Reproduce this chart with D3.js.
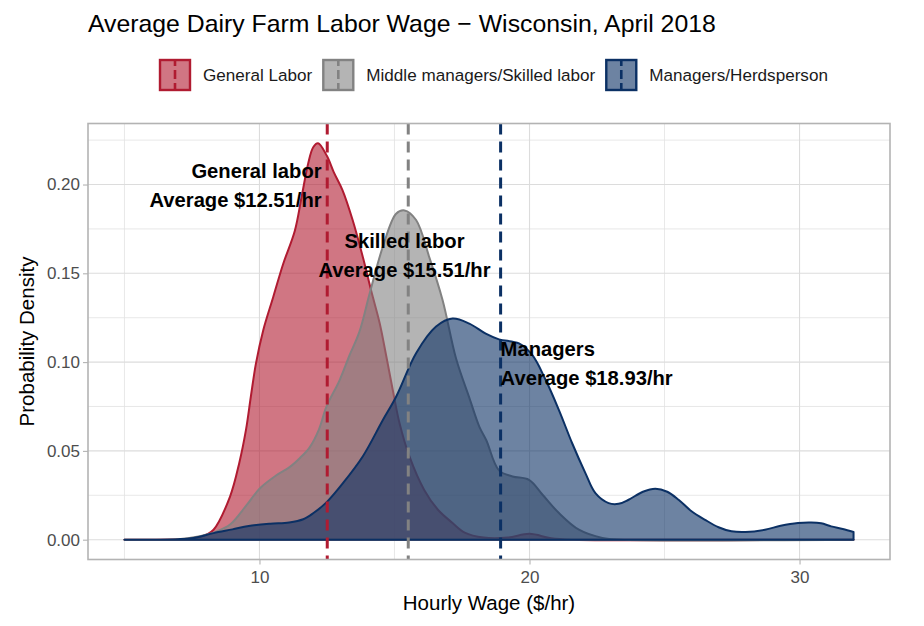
<!DOCTYPE html>
<html>
<head>
<meta charset="utf-8">
<script src="https://cdn.jsdelivr.net/npm/d3@7"></script>
<style>
  html, body { margin: 0; padding: 0; background: #ffffff; }
  svg { display: block; font-family: "Liberation Sans", Arial, sans-serif; }
</style>
</head>
<body>
<svg id="chart" width="924" height="626"></svg>
<script>
// ---------------- data ----------------
const seriesNames = ["General Labor", "Middle managers/Skilled labor", "Managers/Herdsperson"];
const seriesColors = ["#B01B31", "#828282", "#0B3064"];
const seriesMeans = [12.51, 15.51, 18.93];

const generalX = [5, 7.0, 7.68, 8.05, 8.3, 8.91, 9.25, 9.5, 9.68, 9.87, 10.14, 10.51, 10.88, 11.31, 11.56, 11.8, 11.99, 12.17, 12.5, 12.75, 13.07, 13.45, 13.83, 14.14, 14.45, 14.7, 14.94, 15.18, 15.55, 16.1, 16.6, 17.15, 17.6, 18.3, 19.2, 20.0, 20.8, 21.6, 32];
const generalY = [0, 0.0002, 0.001, 0.003, 0.0056, 0.0243, 0.0431, 0.0618, 0.0805, 0.0993, 0.118, 0.1367, 0.1554, 0.174, 0.193, 0.2116, 0.221, 0.2232, 0.216, 0.207, 0.197, 0.18, 0.159, 0.14, 0.122, 0.103, 0.084, 0.066, 0.047, 0.028, 0.017, 0.0094, 0.004, 0.0012, 0.0012, 0.0033, 0.0008, 0, 0];

const skilledX = [5, 7.0, 7.8, 8.4, 8.91, 9.5, 10.02, 10.6, 11.13, 11.5, 11.86, 12.2, 12.48, 12.97, 13.34, 13.7, 14.08, 14.57, 15.06, 15.37, 15.8, 16.29, 16.78, 17.28, 17.77, 18.14, 18.4, 18.87, 19.37, 19.98, 20.5, 21.09, 21.83, 22.7, 23.5, 32];
const skilledY = [0, 0.0003, 0.002, 0.0045, 0.0085, 0.019, 0.029, 0.036, 0.041, 0.046, 0.052, 0.062, 0.0749, 0.0899, 0.104, 0.117, 0.1386, 0.165, 0.1835, 0.1854, 0.18, 0.159, 0.135, 0.102, 0.08, 0.0637, 0.056, 0.039, 0.0356, 0.0337, 0.025, 0.015, 0.0056, 0.001, 0, 0];

const managerX = [5, 7.0, 7.56, 8.3, 9.0, 9.6, 10.4, 11.1, 11.62, 12.0, 12.48, 13.09, 13.83, 14.57, 15.06, 15.8, 16.54, 17.15, 17.77, 18.38, 18.87, 19.61, 20.1, 20.6, 21.09, 21.58, 22.07, 22.44, 22.93, 23.3, 23.67, 24.2, 24.66, 25.1, 25.52, 26.0, 26.5, 27.0, 27.48, 28.0, 28.72, 29.3, 29.94, 30.43, 30.8, 31.17, 31.6, 32];
const managerY = [0, 0.0003, 0.001, 0.0037, 0.0058, 0.0077, 0.009, 0.0097, 0.0115, 0.015, 0.021, 0.0318, 0.047, 0.0674, 0.0805, 0.105, 0.12, 0.1245, 0.1217, 0.116, 0.1128, 0.1105, 0.104, 0.0899, 0.073, 0.0543, 0.0375, 0.0262, 0.0206, 0.0202, 0.0225, 0.027, 0.0287, 0.027, 0.0225, 0.016, 0.0112, 0.007, 0.0047, 0.0043, 0.0056, 0.0078, 0.0094, 0.0097, 0.0092, 0.0075, 0.006, 0.0043];

const xTicks = [10, 20, 30];
const xMinorTicks = [5, 15, 25];
const yTicks = [0, 0.05, 0.10, 0.15, 0.20];
const yMinorTicks = [0.025, 0.075, 0.125, 0.175, 0.225];

const annotLine1 = ["General labor", "Skilled labor", "Managers"];
const annotLine2 = ["Average $12.51/hr", "Average $15.51/hr", "Average $18.93/hr"];
const annotX = [12.3, 15.37, 18.93];
const annotY = [0.2075, 0.1685, 0.1075];
const annotAnchor = ["end", "middle", "start"];

const titleText = "Average Dairy Farm Labor Wage \u2212 Wisconsin, April 2018";
const xTitle = "Hourly Wage ($/hr)";
const yTitle = "Probability Density";

// ---------------- layout ----------------
const svg = d3.select("#chart");
const panel = { left: 88, right: 890, top: 123.5, bottom: 559.5 };

const allX = generalX.concat(skilledX, managerX);
const allY = generalY.concat(skilledY, managerY);
const xMin = d3.min(allX), xMax = d3.max(allX);
const yMax = d3.max(allY);
const xr = xMax - xMin;

const x = d3.scaleLinear().domain([xMin - 0.05 * xr, xMax + 0.05 * xr]).range([panel.left, panel.right]);
const y = d3.scaleLinear().domain([-0.05 * yMax, yMax * 1.05]).range([panel.bottom, panel.top]);

// grid
const grid = svg.append("g");
grid.selectAll("line.xminor").data(xMinorTicks).join("line")
  .attr("x1", d => x(d)).attr("x2", d => x(d)).attr("y1", panel.top).attr("y2", panel.bottom)
  .attr("stroke", "#e2e2e2").attr("stroke-width", 0.8);
grid.selectAll("line.yminor").data(yMinorTicks).join("line")
  .attr("y1", d => y(d)).attr("y2", d => y(d)).attr("x1", panel.left).attr("x2", panel.right)
  .attr("stroke", "#e2e2e2").attr("stroke-width", 0.8);
grid.selectAll("line.xmajor").data(xTicks).join("line")
  .attr("x1", d => x(d)).attr("x2", d => x(d)).attr("y1", panel.top).attr("y2", panel.bottom)
  .attr("stroke", "#dcdcdc").attr("stroke-width", 1.1);
grid.selectAll("line.ymajor").data(yTicks).join("line")
  .attr("y1", d => y(d)).attr("y2", d => y(d)).attr("x1", panel.left).attr("x2", panel.right)
  .attr("stroke", "#dcdcdc").attr("stroke-width", 1.1);

// densities
const seriesData = [
  generalX.map((v, i) => ({ x: v, y: generalY[i] })),
  skilledX.map((v, i) => ({ x: v, y: skilledY[i] })),
  managerX.map((v, i) => ({ x: v, y: managerY[i] }))
];

const curve = d3.curveCatmullRom.alpha(0.5);
const area = d3.area().x(d => x(d.x)).y0(y(0)).y1(d => Math.min(y(0), y(d.y))).curve(curve);
const line = d3.line().x(d => x(d.x)).y(d => y(d.y)).curve(curve);

const dens = svg.append("g");
seriesData.forEach((pts, i) => {
  dens.append("path").attr("d", area(pts))
    .attr("fill", seriesColors[i]).attr("fill-opacity", 0.6).attr("stroke", "none");
  // closed outline (upper curve + ends + baseline)
  const first = pts[0], last = pts[pts.length - 1];
  const outline = line(pts) + `L${x(last.x)},${y(0)}L${x(first.x)},${y(0)}Z`;
  dens.append("path").attr("d", outline)
    .attr("fill", "none").attr("stroke", seriesColors[i]).attr("stroke-width", 2)
    .attr("stroke-linejoin", "round");
});

// mean lines
svg.append("g").selectAll("line").data(seriesMeans).join("line")
  .attr("x1", d => x(d)).attr("x2", d => x(d))
  .attr("y1", panel.top).attr("y2", panel.bottom)
  .attr("stroke", (d, i) => seriesColors[i]).attr("stroke-width", 3)
  .attr("stroke-dasharray", "11,7");

// panel border
svg.append("rect").attr("x", panel.left).attr("y", panel.top)
  .attr("width", panel.right - panel.left).attr("height", panel.bottom - panel.top)
  .attr("fill", "none").attr("stroke", "#b3b3b3").attr("stroke-width", 1.6);

// axes
const yAxis = svg.append("g").attr("transform", `translate(${panel.left},0)`)
  .call(d3.axisLeft(y).tickValues(yTicks).tickFormat(d3.format(".2f")).tickSize(5).tickPadding(3));
const xAxis = svg.append("g").attr("transform", `translate(0,${panel.bottom})`)
  .call(d3.axisBottom(x).tickValues(xTicks).tickFormat(d3.format("d")).tickSize(5).tickPadding(6));
[xAxis, yAxis].forEach(g => {
  g.select(".domain").remove();
  g.selectAll(".tick line").attr("stroke", "#b3b3b3").attr("stroke-width", 1.1);
  g.selectAll(".tick text").attr("fill", "#4d4d4d").style("font-size", "17px")
    .style("font-family", "'Liberation Sans', Arial, sans-serif");
});

// annotations
const ann = svg.append("g");
annotLine1.forEach((t, i) => {
  const txt = ann.append("text")
    .attr("x", x(annotX[i])).attr("y", y(annotY[i]))
    .attr("text-anchor", annotAnchor[i])
    .attr("font-weight", "bold").attr("font-size", "20.2px").attr("fill", "#000");
  txt.append("tspan").attr("x", x(annotX[i])).attr("dy", "0.35em").text(t);
  txt.append("tspan").attr("x", x(annotX[i])).attr("dy", "29px").text(annotLine2[i]);
});

// titles
svg.append("text").attr("x", panel.left).attr("y", 32)
  .attr("font-size", "24.8px").attr("fill", "#000").text(titleText);
svg.append("text").attr("x", (panel.left + panel.right) / 2).attr("y", 610)
  .attr("text-anchor", "middle").attr("font-size", "20.5px").attr("fill", "#000").text(xTitle);
svg.append("text")
  .attr("transform", `translate(34,${(panel.top + panel.bottom) / 2}) rotate(-90)`)
  .attr("text-anchor", "middle").attr("font-size", "20.5px").attr("fill", "#000").text(yTitle);

// legend
const legend = svg.append("g");
let lx = 160;
const keySize = 30, keyTop = 60;
seriesNames.forEach((name, i) => {
  const g = legend.append("g");
  g.append("rect").attr("x", lx).attr("y", keyTop).attr("width", keySize).attr("height", keySize)
    .attr("fill", seriesColors[i]).attr("fill-opacity", 0.6)
    .attr("stroke", seriesColors[i]).attr("stroke-width", 2.4);
  g.append("line").attr("x1", lx + keySize / 2).attr("x2", lx + keySize / 2)
    .attr("y1", keyTop).attr("y2", keyTop + keySize)
    .attr("stroke", seriesColors[i]).attr("stroke-width", 2.6)
    .attr("stroke-dasharray", "9,4").attr("stroke-dashoffset", 3);
  const t = g.append("text").attr("x", lx + keySize + 13).attr("y", keyTop + keySize / 2)
    .attr("dy", "0.35em").attr("font-size", "17.1px").attr("fill", "#1a1a1a").text(name);
  const w = t.node().getComputedTextLength();
  lx = lx + keySize + 13 + w + 11;
});
</script>
</body>
</html>
